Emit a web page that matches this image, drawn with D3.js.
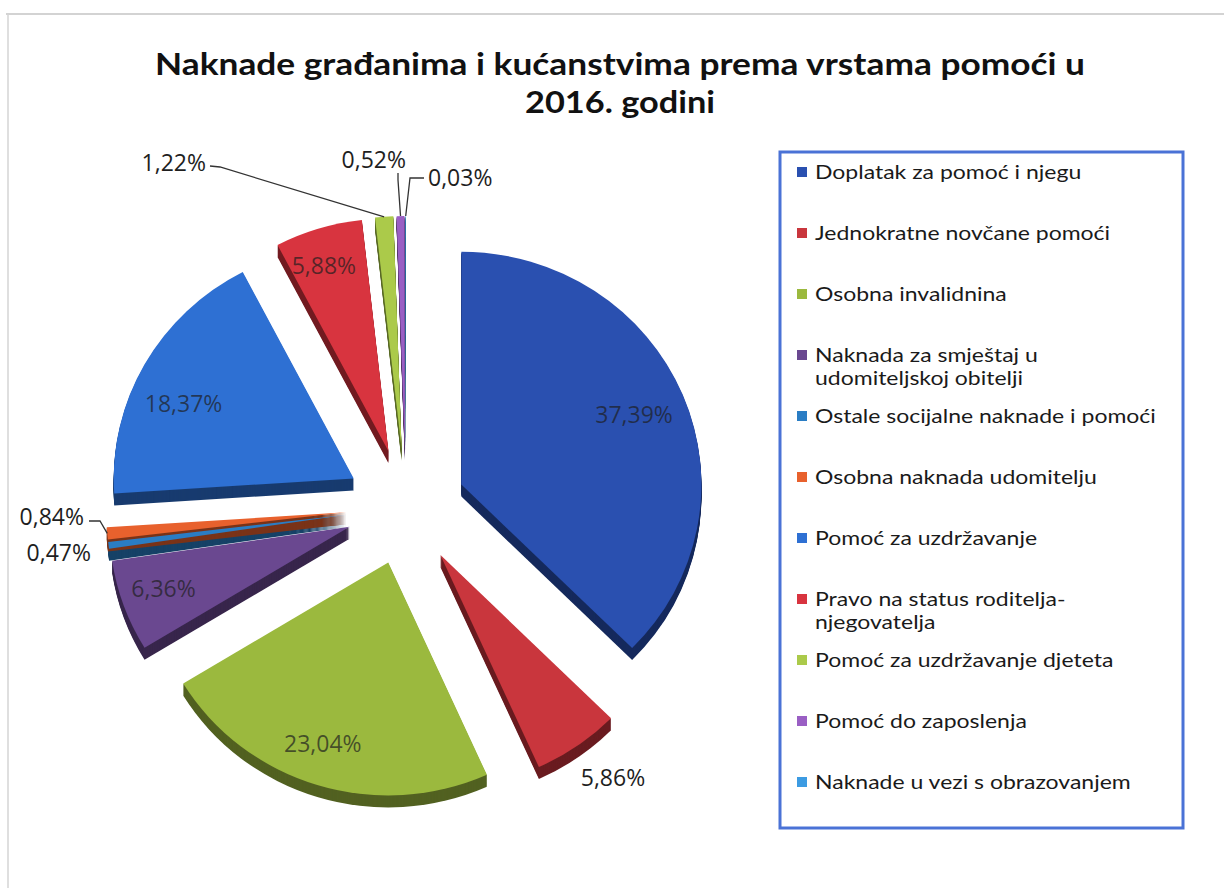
<!DOCTYPE html>
<html>
<head>
<meta charset="utf-8">
<script src="https://cdn.jsdelivr.net/npm/d3@7"></script>
<style>
  body { margin: 0; background: #fff; }
  text { font-family: "Open Sans", "Noto Sans", sans-serif; }
</style>
</head>
<body>
<div id="chart"></div>
<script>
// chart data
var titleLines = ["Naknade građanima i kućanstvima prema vrstama pomoći u", "2016. godini"];
var categories = [
  "Doplatak za pomoć i njegu",
  "Jednokratne novčane pomoći",
  "Osobna invalidnina",
  "Naknada za smještaj u|udomiteljskoj obitelji",
  "Ostale socijalne naknade i pomoći",
  "Osobna naknada udomitelju",
  "Pomoć za uzdržavanje",
  "Pravo na status roditelja-|njegovatelja",
  "Pomoć za uzdržavanje djeteta",
  "Pomoć do zaposlenja",
  "Naknade u vezi s obrazovanjem"
];
var values = [37.39, 5.86, 23.04, 6.36, 0.47, 0.84, 18.37, 5.88, 1.22, 0.52, 0.03];
var colors = ["#2a50b0", "#c9363d", "#9bb93e", "#6a4890", "#2a7dc4", "#e8612d",
              "#2e70d3", "#d8343f", "#abca4a", "#9a5fc4", "#3c9be2"];

// layout
var width = 1224, height = 888;
var CX = 406, CY = 507, R = 240, K = 0.97, EXPLODE = 60, DEPTH = 12;

var svg = d3.select("#chart")
    .append("svg")
    .attr("width", width)
    .attr("height", height);

// scanned page edges
svg.append("line").attr("x1", 6).attr("x2", width).attr("y1", 14).attr("y2", 14)
    .attr("stroke", "#c4c4c4").attr("stroke-width", 1.5);
svg.append("line").attr("x1", 8).attr("x2", 8).attr("y1", 14).attr("y2", height)
    .attr("stroke", "#d4d4d4").attr("stroke-width", 1.5);

// title
svg.selectAll(".title")
    .data(titleLines)
    .enter()
    .append("text")
    .attr("class", "title")
    .attr("x", 620)
    .attr("y", function(d, i) { return 75 + i * 38; })
    .attr("text-anchor", "middle")
    .style("font-family", "Lato, sans-serif")
    .style("font-size", "31px")
    .style("font-weight", "bold")
    .attr("textLength", function(d, i) { return i == 0 ? 930 : 190; })
    .attr("lengthAdjust", "spacingAndGlyphs")
    .attr("fill", "#111")
    .text(function(d) { return d; });

// pie
var arcs = d3.pie().sort(null).value(function(d) { return d; })(values);
var arc = d3.arc().innerRadius(0).outerRadius(R);

function mid(d) { return (d.startAngle + d.endAngle) / 2; }
function apex(d) {
  var a = mid(d);
  return [CX + EXPLODE * Math.sin(a), CY - EXPLODE * Math.cos(a) * K];
}
function onSlice(d, a, f) {
  var p = apex(d);
  return [p[0] + R * f * Math.sin(a), p[1] - R * f * Math.cos(a) * K];
}

var pieG = svg.append("g");

// side walls (stacked copies shifted down)
var depthSteps = d3.range(DEPTH, 0, -1);
arcs.forEach(function(d, i) {
  var p = apex(d);
  pieG.selectAll(".side" + i)
    .data(depthSteps)
    .enter()
    .append("path")
    .attr("transform", function(t) { return "translate(" + p[0] + "," + (p[1] + t) + ") scale(1," + K + ")"; })
    .attr("d", arc(d))
    .attr("fill", d3.color(colors[i]).darker(1.8));
});

// top faces
pieG.selectAll(".top")
    .data(arcs)
    .enter()
    .append("path")
    .attr("class", "top")
    .attr("transform", function(d) { var p = apex(d); return "translate(" + p[0] + "," + p[1] + ") scale(1," + K + ")"; })
    .attr("d", arc)
    .attr("fill", function(d, i) { return colors[i]; });

function fmt(v) { return v.toFixed(2).replace(".", ",") + "%"; }

// label placement: radius fraction and small nudges (layout only)
var labelPlace = {
  0: {f: 0.78, dx: 0, dy: 0},
  1: {f: 1.18, dx: 11, dy: -2, outside: true},
  2: {f: 0.78, dx: -10, dy: 8},
  3: {f: 0.78, dx: -10, dy: 0},
  6: {f: 0.78, dx: -7, dy: 15},
  7: {f: 0.78, dx: -10, dy: -12}
};
Object.keys(labelPlace).forEach(function(k) {
  var i = +k, lp = labelPlace[k], d = arcs[i];
  var p = onSlice(d, mid(d), lp.f);
  svg.append("text")
    .attr("x", p[0] + lp.dx).attr("y", p[1] + lp.dy)
    .attr("dy", "0.35em")
    .attr("text-anchor", "middle")
    .style("font-size", "23px")
    .attr("fill", "#1e1e1e")
    .attr("fill-opacity", lp.outside ? 1 : 0.7)
    .text(fmt(values[i]));
});

// callout labels: text anchor, leader start, leader elbow
var callouts = [
  {i: 5, tx: 84, ty: 517, anchor: "end", lead: [[89, 521], [100, 521]]},
  {i: 4, tx: 91, ty: 553, anchor: "end", lead: null},
  {i: 8, tx: 206, ty: 163, anchor: "end", lead: [[210, 166], [220, 167]]},
  {i: 9, tx: 406, ty: 160, anchor: "end", lead: [[398, 173], [398, 180]]},
  {i: 10, tx: 428, ty: 178, anchor: "start", lead: [[424, 178], [410, 178]]}
];
callouts.forEach(function(c) {
  var d = arcs[c.i];
  svg.append("text")
    .attr("x", c.tx).attr("y", c.ty)
    .attr("dy", "0.35em")
    .attr("text-anchor", c.anchor)
    .style("font-size", "23px")
    .attr("fill", "#1e1e1e")
    .text(fmt(values[c.i]));
  if (c.lead) {
    var end = onSlice(d, mid(d), 1.0);
    svg.append("path")
      .attr("d", d3.line()(c.lead.concat([end])))
      .attr("fill", "none")
      .attr("stroke", "#333")
      .attr("stroke-width", 1.3);
  }
});

// legend
var legend = svg.append("g");
legend.append("rect")
    .attr("x", 780).attr("y", 152)
    .attr("width", 403).attr("height", 676)
    .attr("fill", "none")
    .attr("stroke", "#4a72d6")
    .attr("stroke-width", 3);

var item = legend.selectAll(".item")
    .data(categories)
    .enter()
    .append("g")
    .attr("transform", function(d, i) { return "translate(797," + (172 + i * 61) + ")"; });

item.append("rect")
    .attr("x", 0).attr("y", -5)
    .attr("width", 10).attr("height", 10)
    .attr("fill", function(d, i) { return colors[i]; });

var STRETCH = 1.21;
item.selectAll("text")
    .data(function(d) { return d.split("|"); })
    .enter()
    .append("text")
    .attr("x", 18)
    .attr("y", function(d, j) { return j * 23; })
    .attr("dy", "0.35em")
    .style("font-family", "Lato, sans-serif")
    .style("font-size", "19px")
    .attr("fill", "#1a1a1a")
    .text(function(d) { return d; })
    .each(function() {
      var w = this.getComputedTextLength();
      d3.select(this).attr("textLength", w * STRETCH).attr("lengthAdjust", "spacingAndGlyphs");
    });
</script>
</body>
</html>
